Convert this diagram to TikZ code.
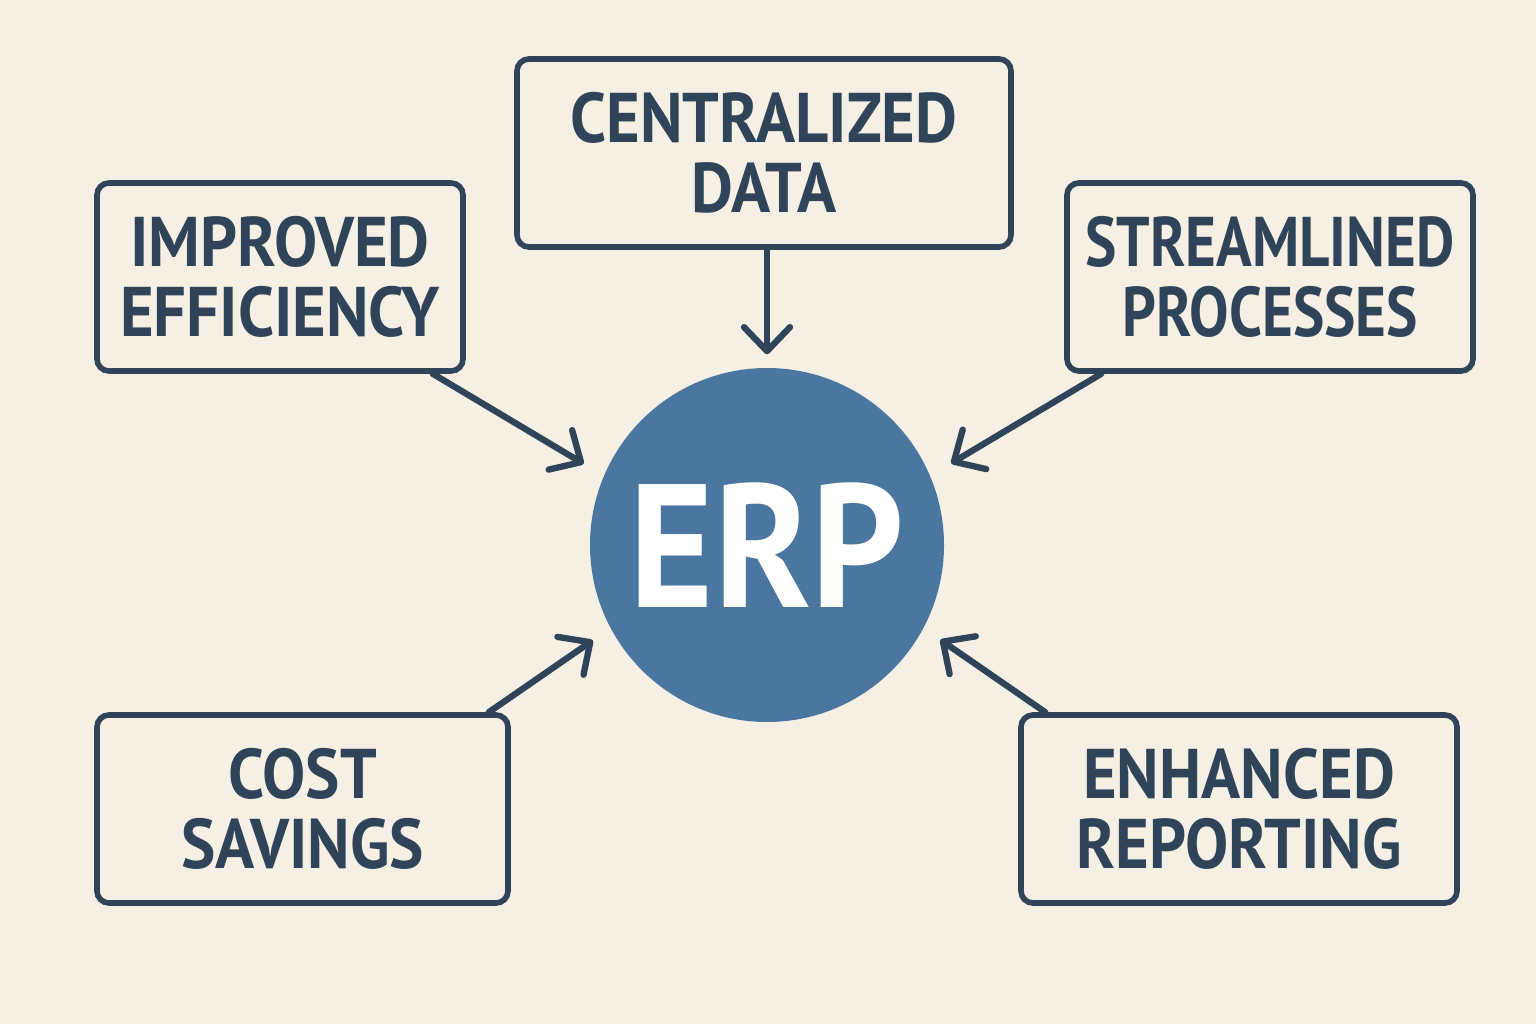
\documentclass[tikz,border=0pt]{standalone}
\usepackage{fontspec}
\usetikzlibrary{arrows.meta}
\newfontfamily\boxfont{PT Sans}[FakeStretch=0.92]
\newfontfamily\narrowfont{PT Sans}[FakeStretch=0.84]
\definecolor{bgcream}{HTML}{F6EFE3}
\definecolor{slate}{HTML}{2F4458}
\definecolor{erpblue}{HTML}{4A76A0}
\tikzset{
  benefit/.style={draw=slate, line width=1.6pt, rounded corners=0.12cm,
    fill=bgcream, text=slate, align=center, minimum height=1.88cm,
    font=\boxfont\bfseries\fontsize{20}{20}\selectfont},
  flow/.style={draw=slate, line width=1.8pt, line cap=round,
    -{Straight Barb[length=2.4mm,width=4.6mm,round]}}
}
\begin{document}
\begin{tikzpicture}
      % Fond
      \fill[bgcream] (0,0) rectangle (15.36,10.24);
      \useasboundingbox (0,0) rectangle (15.36,10.24);
      % Cercle central
      \node[circle, fill=erpblue, minimum size=3.54cm, inner sep=0pt, text=white,
        font=\boxfont\bfseries\fontsize{50}{50}\selectfont] (erp) at (7.67,4.79) {ERP};
      % Boites
      \node[benefit, minimum width=4.94cm] (central) at (7.64,8.71) {CENTRALIZED\\DATA};
      \node[benefit, minimum width=3.66cm] (improved) at (2.80,7.47) {IMPROVED\\EFFICIENCY};
      \node[benefit, minimum width=4.06cm, font=\narrowfont\bfseries\fontsize{20}{20}\selectfont]
        (stream) at (12.70,7.47) {STREAMLINED\\PROCESSES};
      \node[benefit, minimum width=4.11cm] (cost) at (3.025,2.15) {COST\\SAVINGS};
      \node[benefit, minimum width=4.36cm] (enhanced) at (12.39,2.15) {ENHANCED\\REPORTING};
      % Fleches vers ERP
      \draw[flow, shorten >=0.13cm] (central.south -| erp.north) -- (erp.north);
      \draw[flow, shorten >=0.23cm] ([xshift=-0.33cm]improved.south east) -- (erp.157);
      \draw[flow, shorten >=0.24cm] ([xshift=0.37cm]stream.south west) -- (erp.23);
      \draw[flow, shorten >=0.21cm] ([xshift=-0.22cm]cost.north east) -- (erp.208);
      \draw[flow, shorten >=0.20cm] ([xshift=0.27cm]enhanced.north west) -- (erp.332);
\end{tikzpicture}
\end{document}
